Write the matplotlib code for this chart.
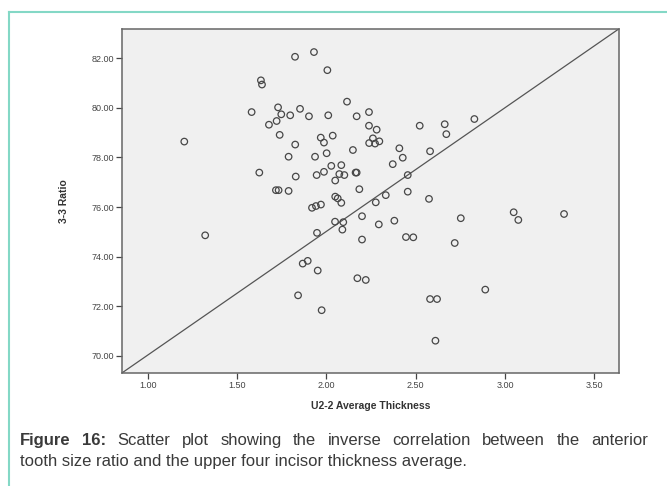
import matplotlib
matplotlib.use("Agg")
import matplotlib.pyplot as plt
import numpy as np
from matplotlib.lines import Line2D

# Dados
thickness = [1.205, 1.825, 1.931, 2.006, 1.634, 1.640, 1.582, 1.730, 1.748, 1.798,
             1.853, 1.903, 2.011, 2.116, 2.170, 2.239, 1.679, 1.722, 1.739, 2.239,
             2.282, 1.969, 1.987, 2.036, 2.261, 2.240, 2.273, 2.297, 1.826, 2.002,
             2.149, 1.789, 1.937, 2.028, 2.084, 1.625, 1.829, 1.946, 1.987, 2.073,
             2.101, 2.164, 2.170, 2.050, 1.718, 1.733, 1.789, 2.185, 2.050, 2.064,
             2.084, 2.277, 1.920, 1.942, 1.970, 2.523, 2.663, 2.672, 2.829, 2.409,
             2.581, 2.428, 2.372, 2.456, 2.333, 2.456, 2.575, 1.322, 2.049, 2.095,
             2.090, 1.948, 2.200, 2.200, 1.868, 1.896, 1.952, 1.842, 1.974, 2.174,
             2.221, 2.294, 2.381, 2.446, 2.487, 2.753, 2.719, 3.049, 3.075, 3.331,
             2.890, 2.581, 2.620, 2.611]
ratio = [78.64, 82.06, 82.25, 81.52, 81.11, 80.94, 79.83, 80.02, 79.74, 79.70,
         79.96, 79.66, 79.70, 80.25, 79.66, 79.83, 79.32, 79.47, 78.91, 79.28,
         79.12, 78.80, 78.60, 78.88, 78.77, 78.58, 78.56, 78.65, 78.52, 78.17,
         78.30, 78.03, 78.03, 77.66, 77.69, 77.39, 77.23, 77.29, 77.42, 77.33,
         77.29, 77.39, 77.39, 77.07, 76.68, 76.68, 76.65, 76.72, 76.42, 76.35,
         76.17, 76.19, 75.97, 76.04, 76.10, 79.28, 79.34, 78.94, 79.55, 78.37,
         78.25, 77.99, 77.73, 77.29, 76.48, 76.62, 76.33, 74.86, 75.41, 75.39,
         75.09, 74.96, 75.63, 74.69, 73.72, 73.83, 73.44, 72.44, 71.84, 73.13,
         73.06, 75.30, 75.45, 74.79, 74.78, 75.55, 74.55, 75.79, 75.48, 75.72,
         72.67, 72.29, 72.29, 70.61]

xticks = [1.00, 1.50, 2.00, 2.50, 3.00, 3.50]
yticks = [70.00, 72.00, 74.00, 76.00, 78.00, 80.00, 82.00]
xlim = (0.858, 3.637)
ylim = (69.32, 83.18)

caption_bold = 'Figure 16:'
caption_line1 = 'Scatter plot showing the inverse correlation between the anterior'
caption_line2 = 'tooth size ratio and the upper four incisor thickness average.'

plt.rcParams['font.family'] = ['Liberation Sans', 'DejaVu Sans']

W, H = 667, 486
fig = plt.figure(figsize=(W / 100, H / 100), dpi=100)
fig.patch.set_facecolor('white')

# moldura turquesa
teal = '#84d8c6'
fig.add_artist(Line2D([9 / W, 9 / W], [0, 1 - 12 / H], color=teal, lw=1.5))
fig.add_artist(Line2D([9 / W, 1], [1 - 12 / H, 1 - 12 / H], color=teal, lw=1.5))

eixo = fig.add_axes([122.3 / W, 1 - 372.7 / H, 496.4 / W, 343.7 / H])
eixo.set_facecolor('#f0f0f0')
eixo.scatter(thickness, ratio, s=22, facecolors='none', edgecolors='#474747', linewidths=0.9, zorder=3)
eixo.plot([0, 1], [0, 1], transform=eixo.transAxes, color='#555555', lw=0.9, zorder=2)

eixo.set_xlim(*xlim)
eixo.set_ylim(*ylim)
eixo.set_xticks(xticks)
eixo.set_yticks(yticks)
eixo.set_xticklabels(['%.2f' % v for v in xticks])
eixo.set_yticklabels(['%.2f' % v for v in yticks])
eixo.tick_params(direction='out', length=4, width=0.9, colors='#444444', labelsize=6.5, pad=2)
for s in eixo.spines.values():
    s.set_color('#666666')
    s.set_linewidth(1.1)

eixo.set_xlabel('U2-2 Average Thickness', fontsize=7.5, fontweight='bold', color='#333333', labelpad=8)
eixo.set_ylabel('3-3 Ratio', fontsize=7.5, fontweight='bold', color='#333333', labelpad=16)

# legenda da figura (primeira linha justificada)
cap_color = '#3a3a3a'
fs = 12
x0, x1 = 20, 648
y1, y2 = 1 - 445 / H, 1 - 466 / H
rend = fig.canvas.get_renderer()
words = [(w, 'bold') for w in caption_bold.split()] + [(w, 'normal') for w in caption_line1.split()]
arts = []
total = 0
for w, fw in words:
    t = fig.text(0, y1, w, fontsize=fs, fontweight=fw, color=cap_color, va='baseline')
    bb = t.get_window_extent(rend)
    arts.append((t, bb.width))
    total += bb.width
gap = (x1 - x0 - total) / (len(arts) - 1)
pos = x0
for t, wd in arts:
    t.set_x(pos / W)
    pos += wd + gap
fig.text(x0 / W, y2, caption_line2, fontsize=fs, color=cap_color, va='baseline')

fig.savefig('out.png', dpi=100)
